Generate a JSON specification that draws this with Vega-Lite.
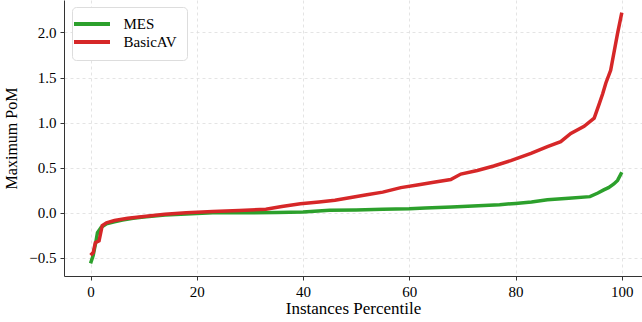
{
  "$schema": "https://vega.github.io/schema/vega-lite/v6.json",
  "autosize": "none",
  "width": 578,
  "height": 276,
  "padding": {"left": 64, "top": 0, "right": 0, "bottom": 46},
  "background": "white",
  "config": {
    "font": "Liberation Serif",
    "view": {"stroke": null},
    "axis": {
      "labelFont": "Liberation Serif",
      "titleFont": "Liberation Serif",
      "labelFontSize": 15,
      "titleFontSize": 16,
      "labelColor": "#000",
      "titleColor": "#000",
      "titleFontWeight": "normal",
      "domainColor": "#333",
      "domainWidth": 1,
      "tickColor": "#333",
      "tickSize": 4,
      "gridColor": "#ddd",
      "gridDash": [3, 3],
      "gridWidth": 0.8
    }
  },
  "data": {
    "values": [
      {"x": 0, "y": -0.56, "s": "MES"},
      {"x": 0.5, "y": -0.47, "s": "MES"},
      {"x": 1.0, "y": -0.32, "s": "MES"},
      {"x": 1.3, "y": -0.22, "s": "MES"},
      {"x": 2, "y": -0.16, "s": "MES"},
      {"x": 3, "y": -0.12, "s": "MES"},
      {"x": 4.5, "y": -0.1, "s": "MES"},
      {"x": 6, "y": -0.08, "s": "MES"},
      {"x": 8, "y": -0.06, "s": "MES"},
      {"x": 10, "y": -0.045, "s": "MES"},
      {"x": 14, "y": -0.025, "s": "MES"},
      {"x": 18, "y": -0.012, "s": "MES"},
      {"x": 23, "y": 0.0, "s": "MES"},
      {"x": 30, "y": 0.0, "s": "MES"},
      {"x": 35, "y": 0.005, "s": "MES"},
      {"x": 40, "y": 0.01, "s": "MES"},
      {"x": 45, "y": 0.03, "s": "MES"},
      {"x": 50, "y": 0.033, "s": "MES"},
      {"x": 55, "y": 0.04, "s": "MES"},
      {"x": 60, "y": 0.045, "s": "MES"},
      {"x": 63, "y": 0.055, "s": "MES"},
      {"x": 68, "y": 0.065, "s": "MES"},
      {"x": 73, "y": 0.078, "s": "MES"},
      {"x": 77, "y": 0.09, "s": "MES"},
      {"x": 80, "y": 0.105, "s": "MES"},
      {"x": 83, "y": 0.12, "s": "MES"},
      {"x": 86, "y": 0.145, "s": "MES"},
      {"x": 90, "y": 0.163, "s": "MES"},
      {"x": 94, "y": 0.18, "s": "MES"},
      {"x": 95.5, "y": 0.22, "s": "MES"},
      {"x": 96.6, "y": 0.255, "s": "MES"},
      {"x": 97.5, "y": 0.28, "s": "MES"},
      {"x": 98.5, "y": 0.32, "s": "MES"},
      {"x": 99.2, "y": 0.36, "s": "MES"},
      {"x": 100, "y": 0.45, "s": "MES"},
      {"x": 0, "y": -0.47, "s": "BasicAV"},
      {"x": 0.5, "y": -0.44, "s": "BasicAV"},
      {"x": 0.9, "y": -0.33, "s": "BasicAV"},
      {"x": 1.6, "y": -0.31, "s": "BasicAV"},
      {"x": 2.2, "y": -0.14, "s": "BasicAV"},
      {"x": 3, "y": -0.11, "s": "BasicAV"},
      {"x": 4.5, "y": -0.085, "s": "BasicAV"},
      {"x": 7, "y": -0.06, "s": "BasicAV"},
      {"x": 10, "y": -0.04, "s": "BasicAV"},
      {"x": 14, "y": -0.015, "s": "BasicAV"},
      {"x": 18, "y": 0.0, "s": "BasicAV"},
      {"x": 23, "y": 0.015, "s": "BasicAV"},
      {"x": 28, "y": 0.025, "s": "BasicAV"},
      {"x": 33, "y": 0.04, "s": "BasicAV"},
      {"x": 36, "y": 0.07, "s": "BasicAV"},
      {"x": 39.5, "y": 0.1, "s": "BasicAV"},
      {"x": 43, "y": 0.12, "s": "BasicAV"},
      {"x": 46, "y": 0.14, "s": "BasicAV"},
      {"x": 49, "y": 0.17, "s": "BasicAV"},
      {"x": 52, "y": 0.2, "s": "BasicAV"},
      {"x": 55, "y": 0.23, "s": "BasicAV"},
      {"x": 58.4, "y": 0.28, "s": "BasicAV"},
      {"x": 61.5, "y": 0.31, "s": "BasicAV"},
      {"x": 64.6, "y": 0.34, "s": "BasicAV"},
      {"x": 67.8, "y": 0.37, "s": "BasicAV"},
      {"x": 69.7, "y": 0.43, "s": "BasicAV"},
      {"x": 72.8, "y": 0.47, "s": "BasicAV"},
      {"x": 75.9, "y": 0.52, "s": "BasicAV"},
      {"x": 79.1, "y": 0.58, "s": "BasicAV"},
      {"x": 82.9, "y": 0.66, "s": "BasicAV"},
      {"x": 86, "y": 0.735, "s": "BasicAV"},
      {"x": 88.5, "y": 0.79, "s": "BasicAV"},
      {"x": 90.4, "y": 0.88, "s": "BasicAV"},
      {"x": 92.9, "y": 0.96, "s": "BasicAV"},
      {"x": 94.8, "y": 1.05, "s": "BasicAV"},
      {"x": 95.7, "y": 1.2, "s": "BasicAV"},
      {"x": 96.4, "y": 1.32, "s": "BasicAV"},
      {"x": 97.0, "y": 1.44, "s": "BasicAV"},
      {"x": 97.9, "y": 1.58, "s": "BasicAV"},
      {"x": 98.5, "y": 1.77, "s": "BasicAV"},
      {"x": 99.2, "y": 1.99, "s": "BasicAV"},
      {"x": 100, "y": 2.22, "s": "BasicAV"}
    ]
  },
  "mark": {"type": "line", "strokeWidth": 3.5, "clip": true},
  "encoding": {
    "x": {
      "field": "x", "type": "quantitative",
      "scale": {"domain": [-5, 103.8], "nice": false, "zero": false},
      "axis": {"values": [0, 20, 40, 60, 80, 100], "title": "Instances Percentile", "titleFontSize": 17, "labelPadding": 4, "titlePadding": 1}
    },
    "y": {
      "field": "y", "type": "quantitative",
      "scale": {"domain": [-0.7, 2.36], "nice": false, "zero": false},
      "axis": {"values": [-0.5, 0, 0.5, 1.0, 1.5, 2.0], "format": ".1f", "title": "Maximum PoM", "labelPadding": 4, "titlePadding": 9}
    },
    "color": {
      "field": "s", "type": "nominal",
      "scale": {"domain": ["MES", "BasicAV"], "range": ["#2ca02c", "#d62728"]},
      "legend": {
        "title": null,
        "orient": "none",
        "legendX": 8,
        "legendY": 7,
        "symbolType": "M-3.6,0H3.6",
        "symbolSize": 100,
        "symbolStrokeWidth": 4,
        "symbolOffset": 3,
        "labelFont": "Liberation Serif",
        "labelFontSize": 15,
        "labelColor": "#000",
        "rowPadding": 1,
        "padding": 9.5,
        "fillColor": "white",
        "strokeColor": "#ddd",
        "cornerRadius": 4,
        "labelOffset": 24
      }
    },
    "order": {"field": "x", "type": "quantitative"}
  }
}
